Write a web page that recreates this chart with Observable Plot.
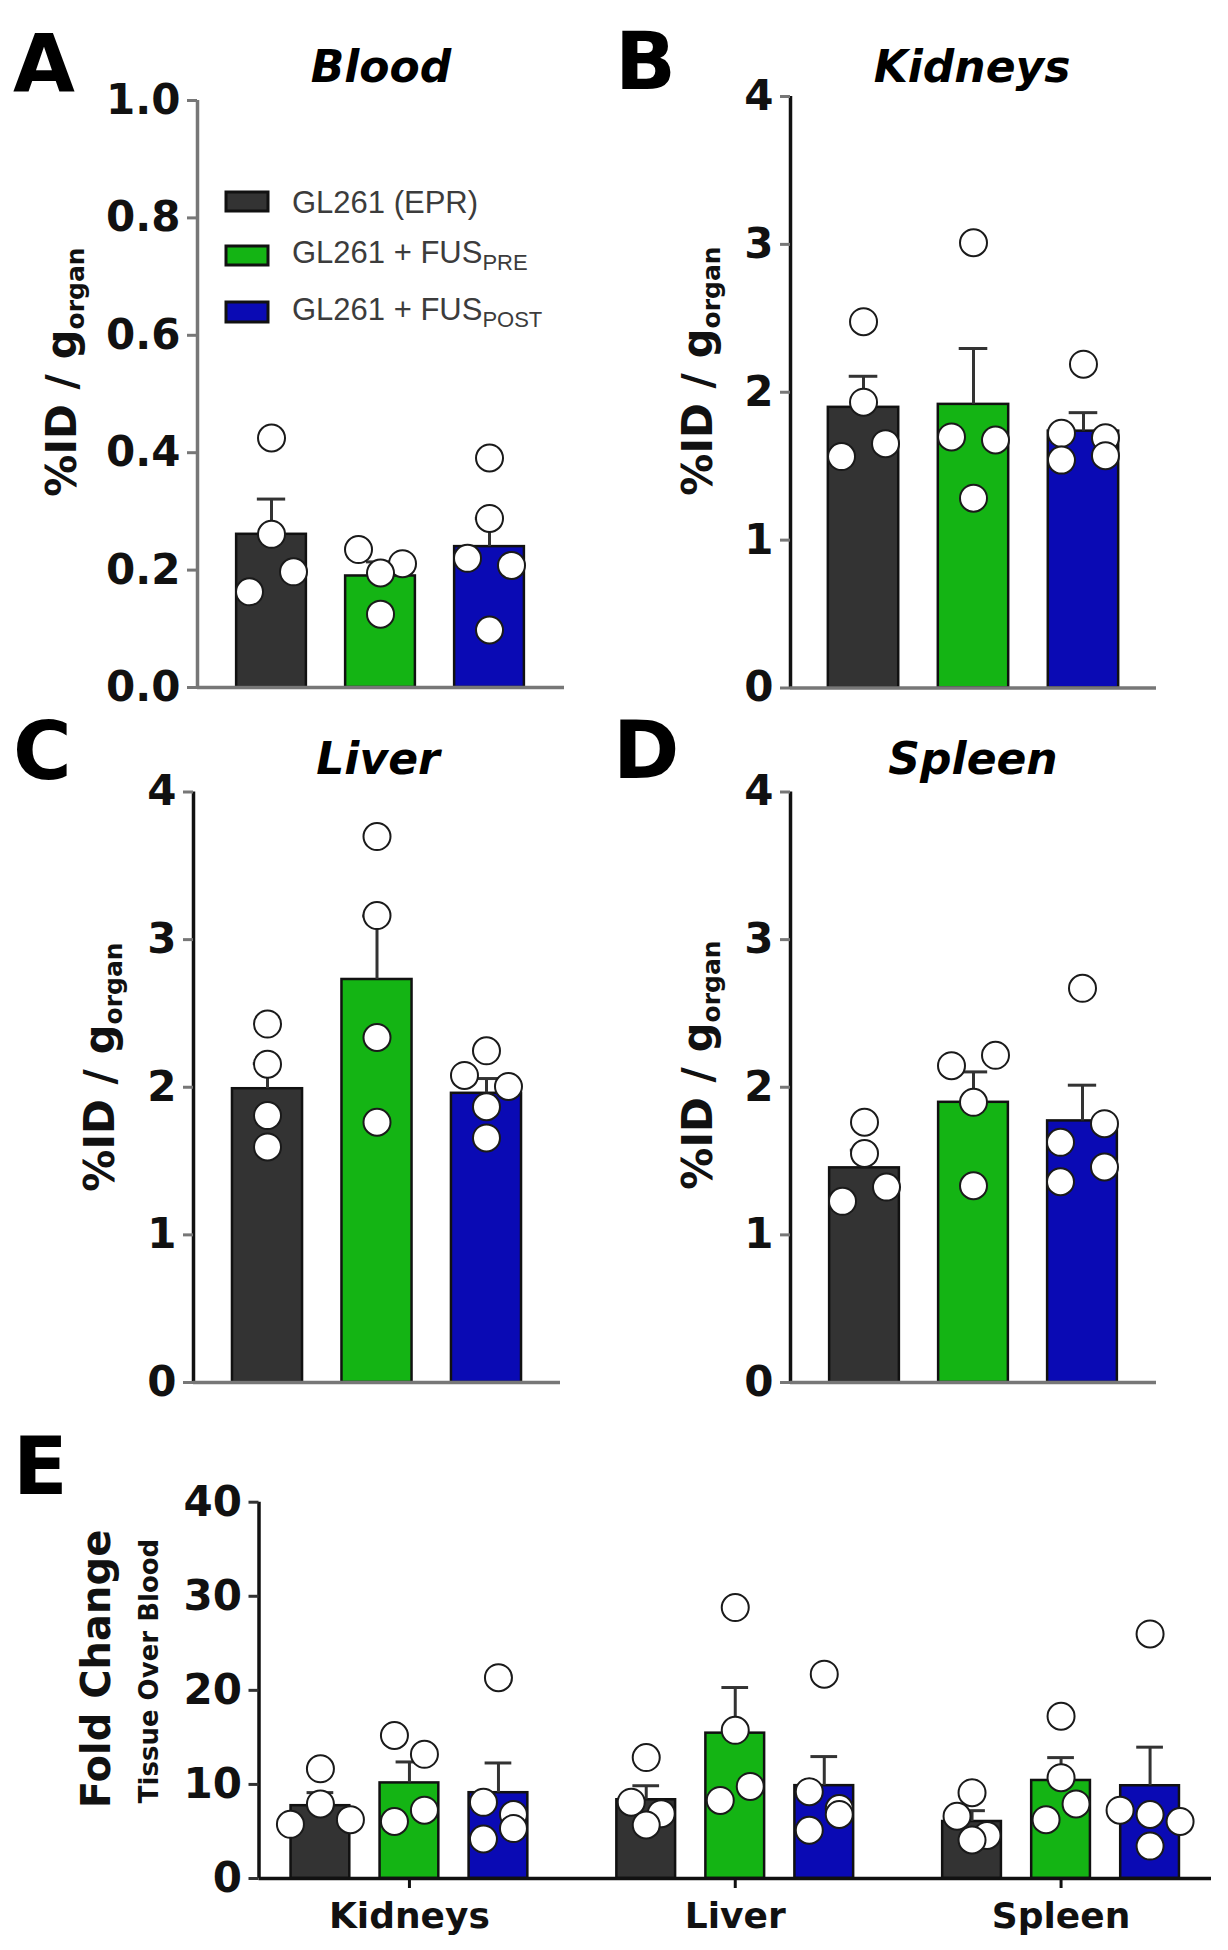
<!DOCTYPE html>
<html><head><meta charset="utf-8">
<script src="https://cdn.jsdelivr.net/npm/d3@7"></script>
<script src="https://cdn.jsdelivr.net/npm/@observablehq/plot@0.6"></script>
<style>
html,body{margin:0;padding:0;background:#fff;}
#page{position:relative;width:1228px;height:1950px;overflow:hidden;background:#fff;}
#page svg{position:absolute;}
</style></head><body><div id="page"></div>
<script>
// ---------- data ----------
const groups = ["GL261 (EPR)", "GL261 + FUS PRE", "GL261 + FUS POST"];
const groupColors = ["#333333", "#14b414", "#0a0ab4"];

// A – Blood (%ID / g organ)
const bloodEPR  = [0.425, 0.261, 0.163, 0.197];
const bloodPRE  = [0.235, 0.211, 0.195, 0.125];
const bloodPOST = [0.391, 0.288, 0.220, 0.208, 0.098];
const bloodMean = [0.261, 0.190, 0.240];
const bloodSEM  = [0.060, 0.024, 0.048];

// B – Kidneys
const kidEPR  = [2.477, 1.933, 1.565, 1.652];
const kidPRE  = [3.011, 1.698, 1.677, 1.284];
const kidPOST = [2.190, 1.722, 1.692, 1.541, 1.571];
const kidMean = [1.898, 1.918, 1.737];
const kidSEM  = [0.210, 0.378, 0.125];

// C – Liver
const livEPR  = [2.428, 2.156, 1.808, 1.596];
const livPRE  = [3.698, 3.163, 2.337, 1.763];
const livPOST = [2.247, 2.080, 2.005, 1.868, 1.657];
const livMean = [1.990, 2.730, 1.959];
const livSEM  = [0.170, 0.430, 0.100];

// D – Spleen
const splEPR  = [1.763, 1.551, 1.227, 1.324];
const splPRE  = [2.146, 2.216, 1.898, 1.333];
const splPOST = [2.670, 1.627, 1.753, 1.360, 1.460];
const splMean = [1.454, 1.898, 1.772];
const splSEM  = [0.120, 0.206, 0.242];

// E – Fold change, tissue over blood
const organs = ["Kidneys", "Liver", "Spleen"];
const fcKidEPR  = [11.66, 5.76, 7.93, 6.25];
const fcKidPRE  = [15.20, 13.20, 6.06, 7.26];
const fcKidPOST = [21.35, 8.10, 6.80, 4.20, 5.31];
const fcLivEPR  = [12.85, 8.11, 6.89, 5.69];
const fcLivPRE  = [28.80, 15.75, 8.30, 9.79];
const fcLivPOST = [21.72, 9.23, 7.44, 5.13, 6.80];
const fcSplEPR  = [9.12, 6.62, 4.57, 4.09];
const fcSplPRE  = [17.25, 10.72, 6.25, 7.93];
const fcSplPOST = [26.00, 7.26, 6.80, 6.06, 3.45];
const fcMean = [[7.74, 10.16, 9.12], [8.37, 15.45, 9.87], [6.06, 10.42, 9.86]];
const fcSEM  = [[1.39, 2.23, 3.16], [1.49, 4.85, 3.09], [1.15, 2.43, 4.10]];

const yTicksA = [0, 0.2, 0.4, 0.6, 0.8, 1.0];
const yTicksBCD = [0, 1, 2, 3, 4];
const yTicksE = [0, 10, 20, 30, 40];

// ---------- helpers ----------
const FONT = "DejaVu Sans";
const page = document.getElementById("page");

// horizontal spreading of points with close values (scatter-dot style)
function rowOffsets(values, hUnits, sPx) {
  const idx = values.map((v, i) => i).sort((a, b) => values[b] - values[a]);
  const rows = [];
  for (const i of idx) {
    const row = rows[rows.length - 1];
    if (row && values[row[0]] - values[i] < hUnits) row.push(i); else rows.push([i]);
  }
  const off = new Array(values.length).fill(0);
  for (const row of rows) {
    const r = row.slice().sort((a, b) => a - b);
    r.forEach((i, k) => off[i] = (k - (r.length - 1) / 2) * sPx);
  }
  return off;
}

function panel(cfg) {
  const {left, top, width, height, ml, mr, mt, mb, xDomain, yDomain, yTicks, yFormat,
         yAxisColor, xAxisColor, tickColor, groupsData, barHalf, capHalf, rowPx, spreadPx, xAxis} = cfg;
  const kx = (width - ml - mr) / (xDomain[1] - xDomain[0]);
  const ky = (height - mt - mb) / (yDomain[1] - yDomain[0]);
  const bars = [], dots = [];
  for (const g of groupsData) {
    bars.push({x: g.x, mean: g.mean, sem: g.sem, color: g.color});
    const off = rowOffsets(g.values, rowPx / ky, spreadPx);
    g.values.forEach((v, i) => dots.push({x: g.x + off[i] / kx, v}));
  }
  const marks = [
    Plot.rectY(bars, {x1: d => d.x - barHalf, x2: d => d.x + barHalf, y1: 0, y2: "mean",
      fill: d => d.color, stroke: "#111", strokeWidth: 2.5}),
    Plot.ruleX(bars, {x: "x", y1: "mean", y2: d => d.mean + d.sem, stroke: "#333", strokeWidth: 3}),
    Plot.ruleY(bars, {y: d => d.mean + d.sem, x1: d => d.x - capHalf, x2: d => d.x + capHalf, stroke: "#333", strokeWidth: 3}),
    Plot.ruleX([xDomain[0]], {stroke: yAxisColor, strokeWidth: 3.5}),
    Plot.ruleY([yDomain[0]], {stroke: xAxisColor, strokeWidth: 3.5}),
    Plot.axisY({ticks: yTicks, tickFormat: yFormat, tickSize: 10, tickPadding: 7,
      stroke: tickColor, strokeWidth: 3, fill: "#111", fontSize: 42, fontWeight: "bold", label: null}),
    Plot.dot(dots, {x: "x", y: "v", r: 13.5, fill: "white", stroke: "#1a1a1a", strokeWidth: 2})
  ];
  if (xAxis) marks.push(Plot.axisX({ticks: xAxis.ticks, tickFormat: d => xAxis.labels[xAxis.ticks.indexOf(d)],
      tickSize: 10, tickPadding: 14, stroke: "#111", strokeWidth: 3, fill: "#111",
      fontSize: 36, fontWeight: "bold", label: null}));
  const svg = Plot.plot({
    width, height, marginLeft: ml, marginRight: mr, marginTop: mt, marginBottom: mb,
    x: {domain: xDomain, axis: null},
    y: {domain: yDomain, axis: null},
    color: {type: "identity"},
    style: {background: "none", fontFamily: FONT, fontWeight: "bold", fontSize: "42px", overflow: "visible"},
    marks
  });
  svg.style.left = left + "px";
  svg.style.top = top + "px";
  page.appendChild(svg);
}

function simpleGroups(series, means, sems) {
  return series.map((vals, i) => ({x: i, values: vals, mean: means[i], sem: sems[i], color: groupColors[i]}));
}

// ---------- panels A–D ----------
const common = {width: 614, height: 720, barHalf: 0.32, capHalf: 0.13, rowPx: 22, spreadPx: 44, tickColor: "#777", xAxisColor: "#777"};
panel({...common, left: 0, top: 0, ml: 197, mr: 50, mt: 100, mb: 33, xDomain: [-0.679, 2.688],
  yDomain: [0, 1], yTicks: yTicksA, yFormat: d3.format(".1f"), yAxisColor: "#777",
  groupsData: simpleGroups([bloodEPR, bloodPRE, bloodPOST], bloodMean, bloodSEM)});
panel({...common, left: 614, top: 0, ml: 176, mr: 72, mt: 96, mb: 32.5, xDomain: [-0.664, 2.664],
  yDomain: [0, 4], yTicks: yTicksBCD, yFormat: d3.format("d"), yAxisColor: "#111",
  groupsData: simpleGroups([kidEPR, kidPRE, kidPOST], kidMean, kidSEM)});
panel({...common, left: 0, top: 700, ml: 193, mr: 54, mt: 91.5, mb: 38, xDomain: [-0.676, 2.676],
  yDomain: [0, 4], yTicks: yTicksBCD, yFormat: d3.format("d"), yAxisColor: "#111",
  groupsData: simpleGroups([livEPR, livPRE, livPOST], livMean, livSEM)});
panel({...common, left: 614, top: 700, ml: 176, mr: 72, mt: 91.5, mb: 38, xDomain: [-0.679, 2.679],
  yDomain: [0, 4], yTicks: yTicksBCD, yFormat: d3.format("d"), yAxisColor: "#111",
  groupsData: simpleGroups([splEPR, splPRE, splPOST], splMean, splSEM)});

// ---------- panel E ----------
const ORG_STEP = 3.66;
const fcSeries = [[fcKidEPR, fcKidPRE, fcKidPOST], [fcLivEPR, fcLivPRE, fcLivPOST], [fcSplEPR, fcSplPRE, fcSplPOST]];
const eGroups = [];
organs.forEach((o, k) => fcSeries[k].forEach((vals, g) => eGroups.push({
  x: k * ORG_STEP + (g - 1), values: vals, mean: fcMean[k][g], sem: fcSEM[k][g], color: groupColors[g]})));
panel({left: 0, top: 1420, width: 1228, height: 530, ml: 258.5, mr: 17, mt: 81.7, mb: 72,
  xDomain: [-1.69, 9.01], yDomain: [0, 40], yTicks: yTicksE, yFormat: d3.format("d"),
  yAxisColor: "#111", xAxisColor: "#111", tickColor: "#333", barHalf: 0.33, capHalf: 0.15,
  rowPx: 22, spreadPx: 30, groupsData: eGroups,
  xAxis: {ticks: organs.map((o, k) => k * ORG_STEP), labels: organs}});

// ---------- text overlay (panel letters, titles, axis titles, legend) ----------
const NS = "http://www.w3.org/2000/svg";
const ov = document.createElementNS(NS, "svg");
ov.setAttribute("width", 1228); ov.setAttribute("height", 1950);
ov.style.left = "0px"; ov.style.top = "0px";
ov.setAttribute("font-family", FONT);
page.appendChild(ov);
function el(tag, attrs, parent = ov) {
  const e = document.createElementNS(NS, tag);
  for (const k in attrs) e.setAttribute(k, attrs[k]);
  parent.appendChild(e);
  return e;
}
function txt(str, attrs, parent = ov) { const t = el("text", attrs, parent); t.textContent = str; return t; }

// panel letters
[["A", 13, 92], ["B", 615, 89], ["C", 13, 779], ["D", 613, 778], ["E", 13, 1494]].forEach(([s, x, y]) =>
  txt(s, {x, y, "font-size": 80, "font-weight": "bold", fill: "#000"}));

// titles
[["Blood", 381, 82], ["Kidneys", 972, 82], ["Liver", 378, 774], ["Spleen", 973, 774]].forEach(([s, x, y]) =>
  txt(s, {x, y, "font-size": 44, "font-weight": "bold", "font-style": "italic", "text-anchor": "middle", fill: "#000"}));

// y-axis titles
[[76, 372], [712, 371], [114, 1067], [712, 1065]].forEach(([x, y]) => {
  const t = el("text", {transform: `translate(${x},${y}) rotate(-90)`, "font-size": 42, "font-weight": "bold",
    "text-anchor": "middle", fill: "#111"});
  const a = el("tspan", {}, t); a.textContent = "%ID / g";
  const b = el("tspan", {"font-size": 25, dy: 8}, t); b.textContent = "organ";
});
txt("Fold Change", {transform: "translate(110,1669) rotate(-90)", "font-size": 40, "font-weight": "bold", "text-anchor": "middle", fill: "#111"});
txt("Tissue Over Blood", {transform: "translate(158,1671) rotate(-90)", "font-size": 26, "font-weight": "bold", "text-anchor": "middle", fill: "#111"});

// legend
const legRows = [
  {main: "GL261 (EPR)", sub: "", y: 213, sy: 192, sh: 19},
  {main: "GL261 + FUS", sub: "PRE", y: 263, sy: 246, sh: 19},
  {main: "GL261 + FUS", sub: "POST", y: 320, sy: 302, sh: 20}
];
legRows.forEach((r, i) => {
  el("rect", {x: 226, y: r.sy, width: 42, height: r.sh, fill: groupColors[i], stroke: "#111", "stroke-width": 3});
  const t = el("text", {x: 292, y: r.y, "font-family": "Liberation Sans", "font-size": 31, fill: "#3c3c3c"});
  const a = el("tspan", {}, t); a.textContent = r.main;
  if (r.sub) { const b = el("tspan", {"font-size": 22, dy: 7}, t); b.textContent = r.sub; }
});
</script></body></html>
